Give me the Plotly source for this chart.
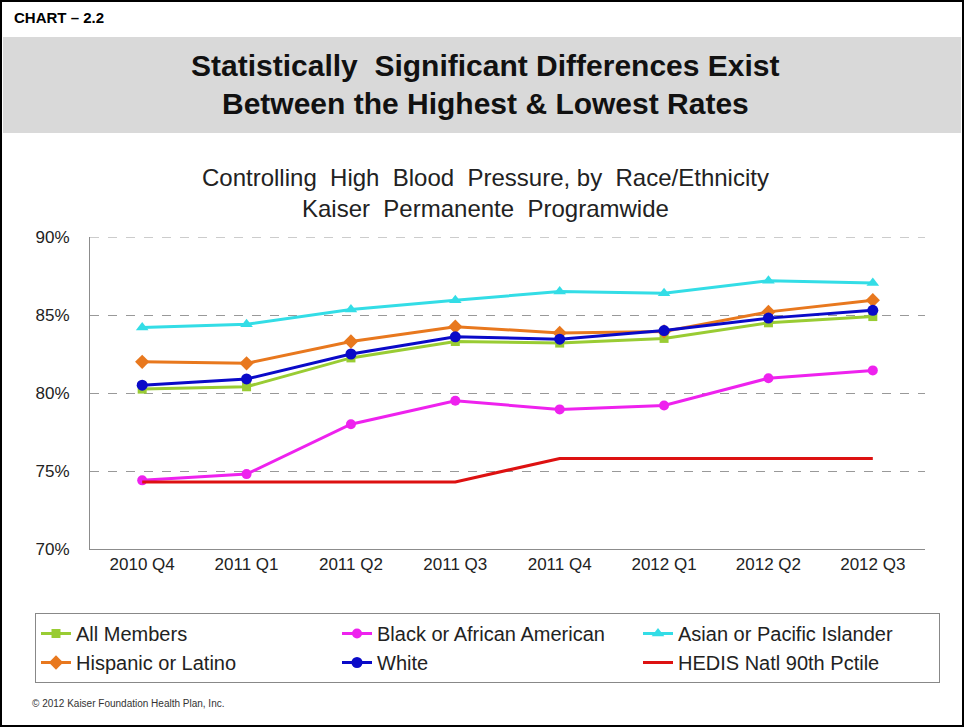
import plotly.graph_objects as go

quarters = ["2010 Q4", "2011 Q1", "2011 Q2", "2011 Q3", "2011 Q4", "2012 Q1", "2012 Q2", "2012 Q3"]
all_members = [80.25, 80.4, 82.25, 83.3, 83.2, 83.5, 84.5, 84.9]
black = [74.4, 74.8, 78.0, 79.5, 78.95, 79.2, 80.95, 81.45]
asian = [84.2, 84.4, 85.35, 85.95, 86.5, 86.4, 87.2, 87.05]
hispanic = [82.0, 81.9, 83.3, 84.25, 83.85, 83.95, 85.2, 85.95]
white = [80.5, 80.9, 82.5, 83.6, 83.45, 84.0, 84.8, 85.3]
hedis = [74.3, 74.3, 74.3, 74.3, 75.8, 75.8, 75.8, 75.8]

y_ticks = [70, 75, 80, 85, 90]
y_tick_labels = ["70%", "75%", "80%", "85%", "90%"]

W, H = 964, 727
ML, MR, MT, MB = 90, 39, 237, 178
PW, PH = W - ML - MR, H - MT - MB


def px(x):
    return (x - ML) / PW


def py(y):
    return (H - MB - y) / PH


series = [
    ("All Members", all_members, "#99CC33", "square", 9),
    ("Black or African American", black, "#EE22EE", "circle", 10),
    ("Asian or Pacific Islander", asian, "#33DDE6", "triangle-up", 11),
    ("Hispanic or Latino", hispanic, "#E8781E", "diamond", 11),
    ("White", white, "#0A0AC8", "circle", 11),
]

fig = go.Figure()
for name, vals, color, sym, size in series:
    fig.add_trace(go.Scatter(
        x=quarters, y=vals, name=name, mode="lines+markers",
        line=dict(color=color, width=3),
        marker=dict(symbol=sym, size=size, color=color),
    ))
fig.add_trace(go.Scatter(
    x=quarters, y=hedis, name="HEDIS Natl 90th Pctile", mode="lines",
    line=dict(color="#DD1111", width=3),
))

shapes = [
    dict(type="rect", xref="paper", yref="paper", x0=px(3), x1=px(961), y0=py(133), y1=py(37),
         fillcolor="#D9D9D9", line=dict(width=0), layer="below"),
    dict(type="rect", xref="paper", yref="paper", x0=px(1), x1=px(963), y0=py(726), y1=py(1),
         fillcolor="rgba(0,0,0,0)", line=dict(color="#000000", width=2)),
    # top gridline at 90%
    dict(type="line", xref="paper", yref="y", x0=0, x1=1, y0=y_ticks[-1], y1=y_ticks[-1],
         line=dict(color="#999999", width=1, dash="dash"), layer="below"),
]

annotations = [
    dict(text="<b>CHART – 2.2</b>", x=px(12), y=py(17), xanchor="left", yanchor="middle",
         font=dict(size=15, color="#000000")),
    dict(text="<b>Statistically  Significant Differences Exist</b>", x=px(485), y=py(66),
         xanchor="center", yanchor="middle", font=dict(size=30, color="#111111")),
    dict(text="<b>Between the Highest & Lowest Rates</b>", x=px(485), y=py(103),
         xanchor="center", yanchor="middle", font=dict(size=30, color="#111111")),
    dict(text="Controlling  High  Blood  Pressure, by  Race/Ethnicity", x=px(485), y=py(177),
         xanchor="center", yanchor="middle", font=dict(size=24, color="#222222")),
    dict(text="Kaiser  Permanente  Programwide", x=px(485), y=py(208),
         xanchor="center", yanchor="middle", font=dict(size=24, color="#222222")),
    dict(text="© 2012 Kaiser Foundation Health Plan, Inc.", x=px(30), y=py(703),
         xanchor="left", yanchor="middle", font=dict(size=10, color="#333333")),
]
for a in annotations:
    a.update(xref="paper", yref="paper", showarrow=False)

fig.update_layout(
    width=W, height=H,
    margin=dict(l=ML, r=MR, t=MT, b=MB),
    paper_bgcolor="#FFFFFF", plot_bgcolor="#FFFFFF",
    font=dict(family="Liberation Sans, Arial, sans-serif", color="#222222"),
    shapes=shapes, annotations=annotations,
    showlegend=True,
    legend=dict(
        orientation="h", x=px(35), y=py(613), xanchor="left", yanchor="top",
        bordercolor="#888888", borderwidth=1, bgcolor="#FFFFFF",
        font=dict(size=20, color="#222222"),
        entrywidth=256, entrywidthmode="pixels", itemwidth=30,
        tracegroupgap=0,
    ),
    xaxis=dict(
        type="category", range=[-0.5, 7.5], showgrid=False, zeroline=False,
        showline=True, linecolor="#8C8C8C", linewidth=1, ticks="",
        tickfont=dict(size=17, color="#222222"),
    ),
    yaxis=dict(
        range=[70, 90], tickvals=y_ticks, ticktext=y_tick_labels,
        showgrid=True, gridcolor="#999999", griddash="dash", gridwidth=1,
        zeroline=False, showline=True, linecolor="#8C8C8C", linewidth=1, ticks="",
        tickfont=dict(size=17, color="#222222"), ticklabelstandoff=16,
    ),
)

fig.write_html("out.html")
